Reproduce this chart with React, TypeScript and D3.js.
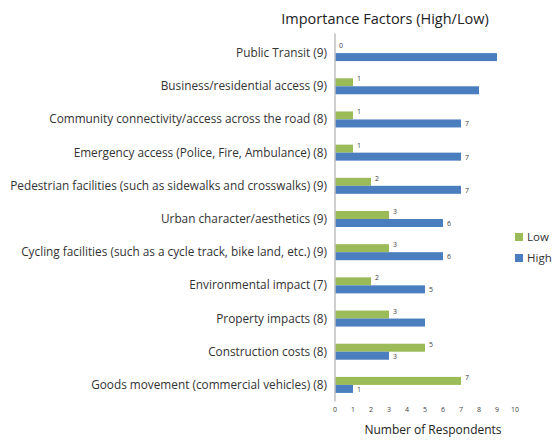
import React, { useEffect, useRef } from "react";
import * as d3 from "d3";

const categories = [
  "Public Transit (9)",
  "Business/residential access (9)",
  "Community connectivity/access across the road (8)",
  "Emergency access (Police, Fire, Ambulance) (8)",
  "Pedestrian facilities (such as sidewalks and crosswalks) (9)",
  "Urban character/aesthetics (9)",
  "Cycling facilities (such as a cycle track, bike land, etc.) (9)",
  "Environmental impact (7)",
  "Property impacts (8)",
  "Construction costs (8)",
  "Goods movement (commercial vehicles) (8)",
];
const low = [0, 1, 1, 1, 2, 3, 3, 2, 3, 5, 7];
const high = [9, 8, 7, 7, 7, 6, 6, 5, 5, 3, 1];
// data labels that appear in the original (null = not shown)
const highLabels = [null, null, 7, 7, 7, 6, 6, 5, null, 3, 1];
const ticks = d3.range(0, 11);

const font = "'Open Sans', sans-serif";

const App = () => {
  const ref = useRef<SVGSVGElement>(null);

  useEffect(() => {
    const svg = d3.select(ref.current);
    svg.selectAll("*").remove();

    const left = 335;
    const top = 36.5;
    const bottom = 401.5;

    const x = d3.scaleLinear().domain([0, 10]).range([left, left + 180]);
    const y = d3.scaleBand().domain(categories).range([top, bottom]);
    const barH = 8;

    const g = svg.append("g");

    // category labels
    g.selectAll("text.cat")
      .data(categories)
      .enter()
      .append("text")
      .attr("x", 327)
      .attr("y", (d) => y(d)! + y.bandwidth() / 2 + 4)
      .attr("text-anchor", "end")
      .attr("font-family", font)
      .attr("font-size", 11.8)
      .attr("fill", "#333")
      .text((d) => d);

    const rows = categories.map((c, i) => ({ c, low: low[i], high: high[i], hl: highLabels[i] }));

    // low bars
    g.selectAll("rect.low")
      .data(rows)
      .enter()
      .append("rect")
      .attr("x", x(0))
      .attr("y", (d) => y(d.c)! + y.bandwidth() / 2 - barH)
      .attr("width", (d) => x(d.low) - x(0))
      .attr("height", barH)
      .attr("fill", "#9bbb59");

    // high bars
    g.selectAll("rect.high")
      .data(rows)
      .enter()
      .append("rect")
      .attr("x", x(0))
      .attr("y", (d) => y(d.c)! + y.bandwidth() / 2)
      .attr("width", (d) => x(d.high) - x(0))
      .attr("height", barH)
      .attr("fill", "#4a7ebf");

    // value labels
    g.selectAll("text.lowv")
      .data(rows)
      .enter()
      .append("text")
      .attr("x", (d) => x(d.low) + 4)
      .attr("y", (d) => y(d.c)! + y.bandwidth() / 2 - barH / 2 - 1)
      .attr("font-family", font)
      .attr("font-size", 7)
      .attr("fill", "#404040")
      .text((d) => d.low);

    g.selectAll("text.highv")
      .data(rows.filter((d) => d.hl !== null))
      .enter()
      .append("text")
      .attr("x", (d) => x(d.high) + 4)
      .attr("y", (d) => y(d.c)! + y.bandwidth() / 2 + barH / 2 + 3)
      .attr("font-family", font)
      .attr("font-size", 7)
      .attr("fill", "#404040")
      .text((d) => d.hl as number);

    // axis line
    g.append("line")
      .attr("x1", x(0))
      .attr("x2", x(0))
      .attr("y1", top - 3)
      .attr("y2", bottom)
      .attr("stroke", "#bfbfbf")
      .attr("stroke-width", 1.5);

    // x tick labels
    g.selectAll("text.tick")
      .data(ticks)
      .enter()
      .append("text")
      .attr("x", (d) => x(d))
      .attr("y", 412)
      .attr("text-anchor", "middle")
      .attr("font-family", font)
      .attr("font-size", 7)
      .attr("fill", "#404040")
      .text((d) => d);

    g.append("text")
      .attr("x", 433)
      .attr("y", 434)
      .attr("text-anchor", "middle")
      .attr("font-family", font)
      .attr("font-size", 12)
      .attr("fill", "#222")
      .text("Number of Respondents");

    g.append("text")
      .attr("x", 385)
      .attr("y", 24)
      .attr("text-anchor", "middle")
      .attr("font-family", font)
      .attr("font-size", 14.5)
      .attr("fill", "#222")
      .text("Importance Factors (High/Low)");

    // legend
    const legend = [
      { name: "Low", color: "#9bbb59" },
      { name: "High", color: "#4a7ebf" },
    ];
    const lg = g.selectAll("g.leg").data(legend).enter().append("g")
      .attr("transform", (_d, i) => `translate(515,${233 + i * 21})`);
    lg.append("rect").attr("width", 8).attr("height", 8).attr("fill", (d) => d.color);
    lg.append("text")
      .attr("x", 12)
      .attr("y", 8)
      .attr("font-family", font)
      .attr("font-size", 11.5)
      .attr("fill", "#333")
      .text((d) => d.name);
  }, []);

  return (
    <svg
      ref={ref}
      width={554}
      height={441}
      style={{ position: "absolute", left: 0, top: 0, background: "#fff" }}
    />
  );
};

export default App;
